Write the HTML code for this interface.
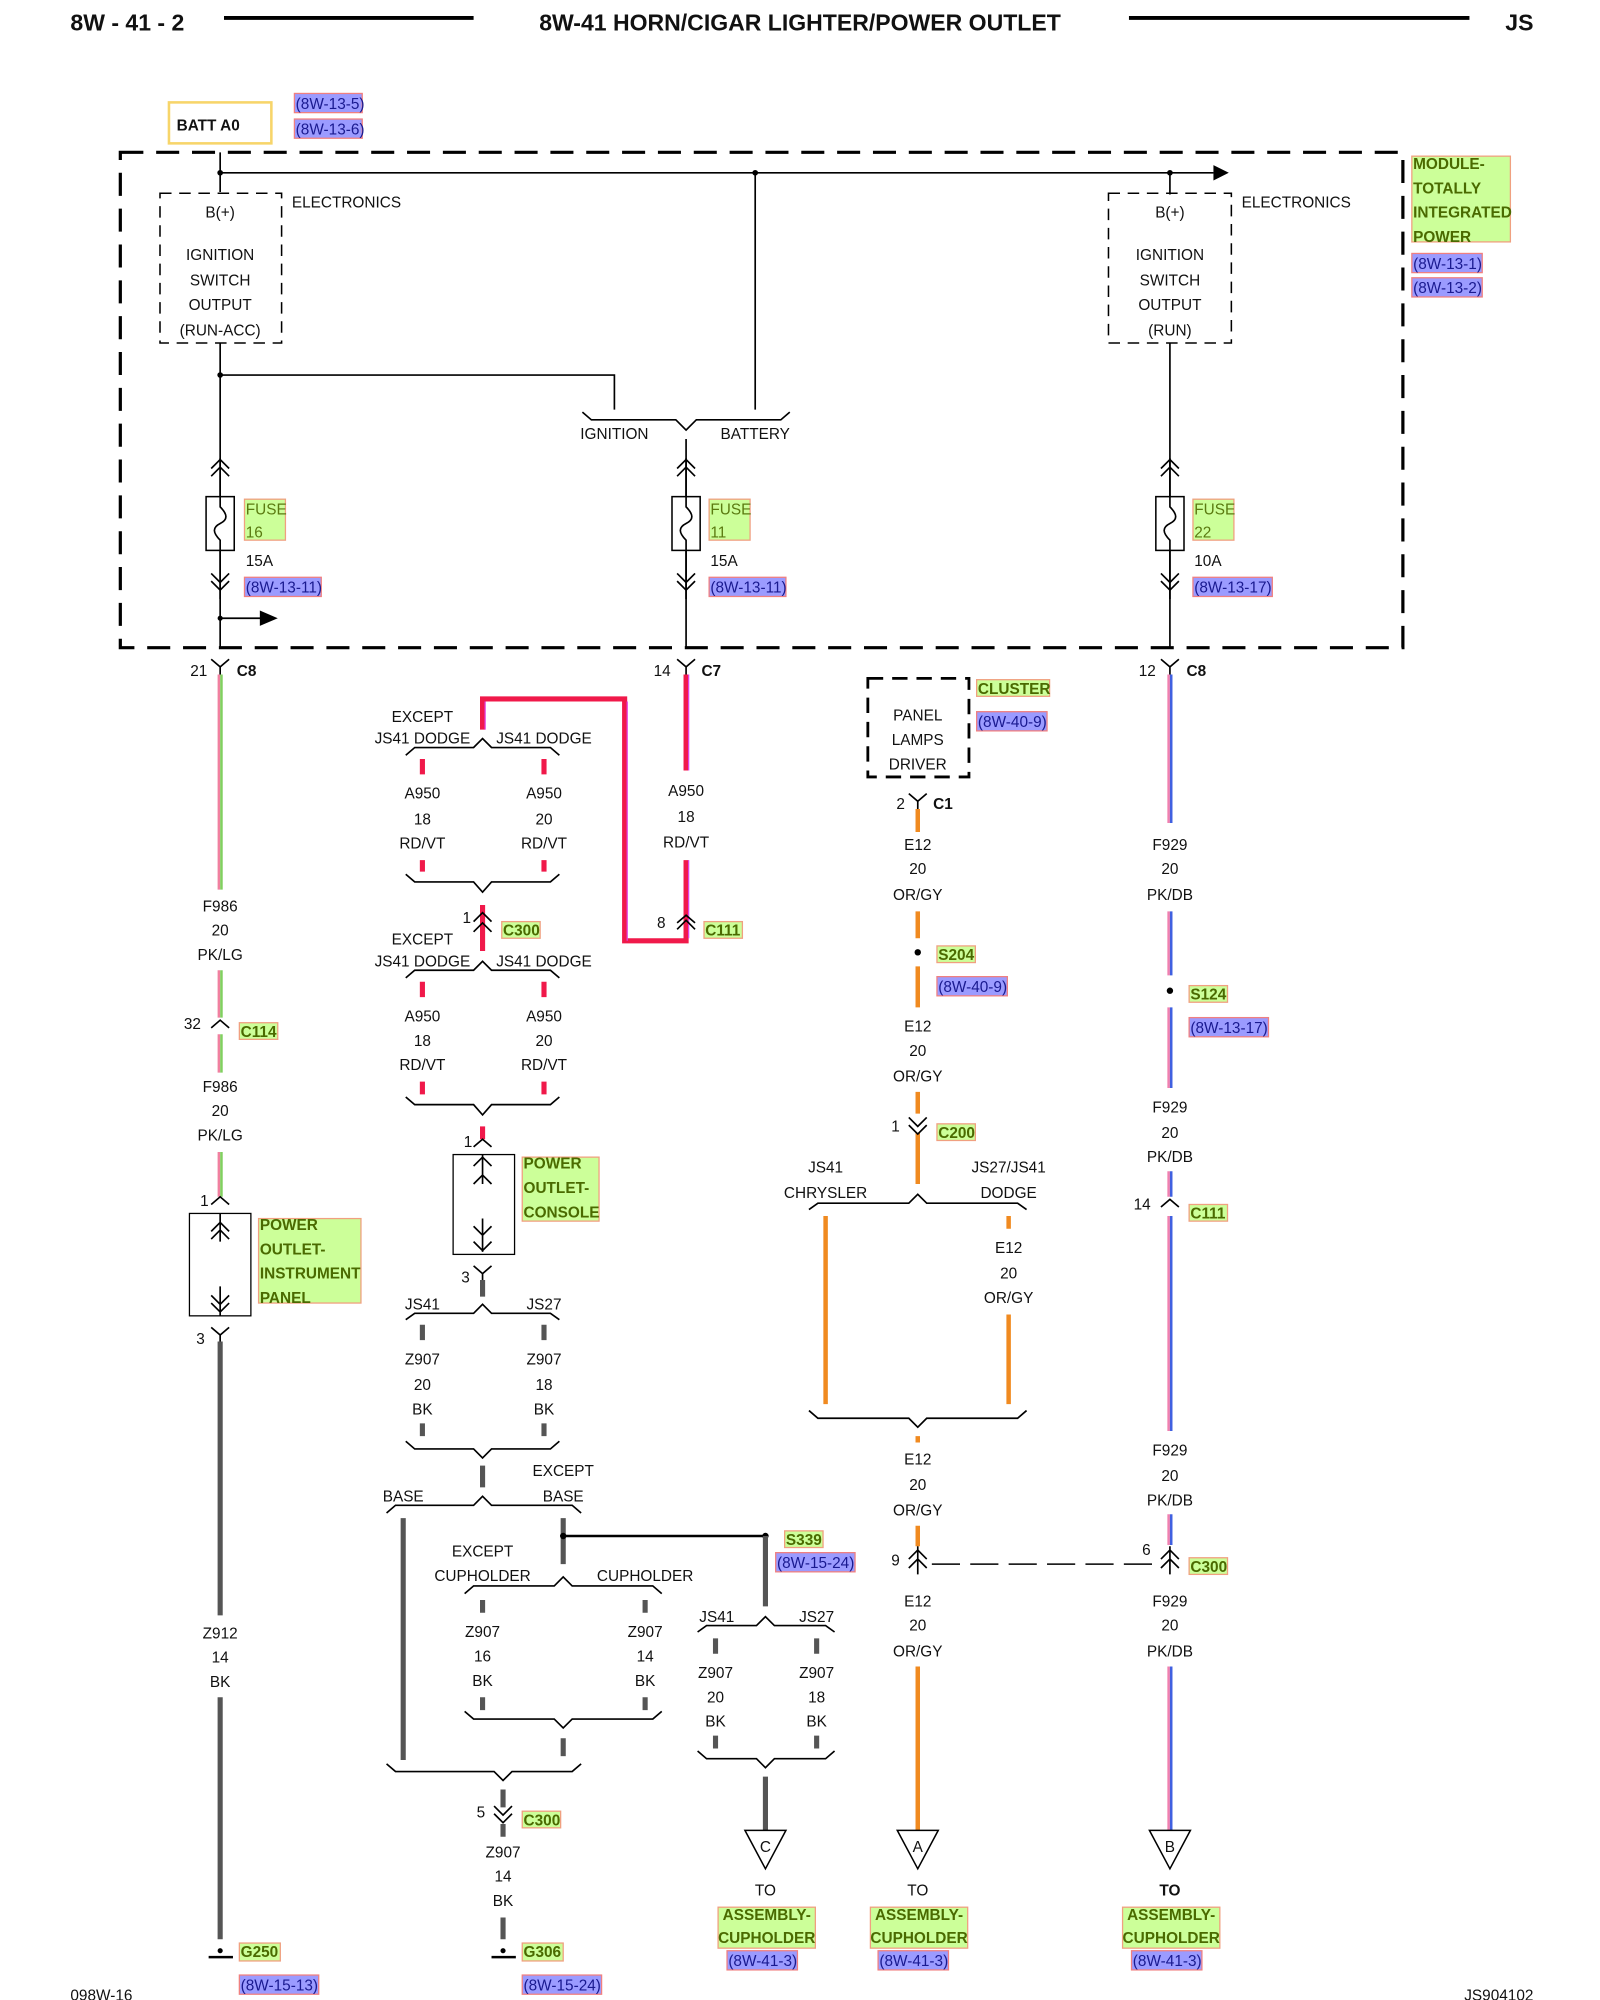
<!DOCTYPE html>
<html><head><meta charset="utf-8"><style>
html,body{margin:0;padding:0;background:#fff}
svg{display:block}
text{font-family:"Liberation Sans",sans-serif;font-size:12px;fill:#111}
.m{text-anchor:middle}
.e{text-anchor:end}
.b{font-weight:bold}
.g{font-weight:bold;fill:#4a6a00;font-size:12px}
.r{fill:#1a1a90;font-size:12px}
.k{stroke:#000;stroke-width:1.3;fill:none}
.bk{stroke:#555;stroke-width:4;fill:none}
.rd{stroke:#f0194a;stroke-width:4;fill:none}
.or{stroke:#f08a20;stroke-width:3.5;fill:none}
</style></head><body>
<svg width="1600" height="2000" viewBox="0 0 1250 1562.5" xmlns="http://www.w3.org/2000/svg">
<defs>
<g id="Y"><path d="M-7,-6 L0,0 L7,-6 M0,0 V6" class="k"/></g>
<g id="A"><path d="M-7,6 L0,0 L7,6" class="k"/></g>
<g id="fuse"><path d="M-7,-22 L0,-29 L7,-22 M-7,-16 L0,-23 L7,-16" class="k"/><rect x="-11" y="0" width="22" height="42" fill="#fff" stroke="#000" stroke-width="1.2"/><path d="M0,-30 V8 C6,14 6,18 0,21 C-6,24 -6,28 0,34 V80" class="k"/><path d="M-7,60 L0,67 L7,60 M-7,66 L0,73 L7,66" class="k"/></g>
</defs>

<!-- header -->
<text x="55" y="24" class="b" style="font-size:18px">8W - 41 - 2</text>
<line x1="175" y1="14" x2="370" y2="14" stroke="#000" stroke-width="3"/>
<text x="625" y="24" class="b m" style="font-size:18px">8W-41 HORN/CIGAR LIGHTER/POWER OUTLET</text>
<line x1="882" y1="14" x2="1148" y2="14" stroke="#000" stroke-width="3"/>
<text x="1198" y="24" class="b e" style="font-size:18px">JS</text>

<!-- BATT -->
<rect x="132" y="80" width="80" height="32" fill="#fff" stroke="#f7d56a" stroke-width="2"/>
<text x="138" y="102" class="b">BATT A0</text>
<rect x="230" y="73" width="53" height="15" fill="#9b9bff" stroke="#f08080"/><text x="231" y="85" class="r">(8W-13-5)</text>
<rect x="230" y="93" width="53" height="15" fill="#9b9bff" stroke="#f08080"/><text x="231" y="105" class="r">(8W-13-6)</text>

<!-- module -->
<rect x="94" y="119" width="1002" height="387" fill="none" stroke="#000" stroke-width="2.5" stroke-dasharray="18 10"/>
<path d="M172,119 V150 M172,135 H948 M590,135 V320 M914,135 V152" class="k"/>
<path d="M948,129 L960,135 L948,141 Z"/>
<circle cx="172" cy="135" r="2.2"/><circle cx="590" cy="135" r="2.2"/><circle cx="914" cy="135" r="2.2"/>
<rect x="125" y="151" width="95" height="117" fill="none" stroke="#000" stroke-width="1.2" stroke-dasharray="9 6"/>
<rect x="866" y="151" width="96" height="117" fill="none" stroke="#000" stroke-width="1.2" stroke-dasharray="9 6"/>
<text x="172" y="170" class="m">B(+)</text><text x="172" y="203" class="m">IGNITION</text><text x="172" y="223" class="m">SWITCH</text><text x="172" y="242" class="m">OUTPUT</text><text x="172" y="262" class="m">(RUN-ACC)</text>
<text x="228" y="162">ELECTRONICS</text>
<text x="914" y="170" class="m">B(+)</text><text x="914" y="203" class="m">IGNITION</text><text x="914" y="223" class="m">SWITCH</text><text x="914" y="242" class="m">OUTPUT</text><text x="914" y="262" class="m">(RUN)</text>
<text x="970" y="162">ELECTRONICS</text>
<path d="M172,268 V506 M172,293 H480 V320 M914,268 V506 M536,343 V506" class="k"/>
<circle cx="172" cy="293" r="2.2"/>
<path d="M455,322 L462,328 L528,328 L536,336 L544,328 L610,328 L617,322" class="k"/>
<text x="480" y="343" class="m">IGNITION</text><text x="590" y="343" class="m">BATTERY</text>
<use href="#fuse" x="172" y="388"/><use href="#fuse" x="536" y="388"/><use href="#fuse" x="914" y="388"/>
<g>
<rect x="191" y="390" width="32" height="32" fill="#ccff99" stroke="#f0a080"/><text x="192" y="402" style="fill:#5a7a10">FUSE</text><text x="192" y="420" style="fill:#5a7a10">16</text>
<text x="192" y="442">15A</text><rect x="191" y="451" width="60" height="15" fill="#9b9bff" stroke="#f08080"/><text x="192" y="463" class="r">(8W-13-11)</text>
<rect x="554" y="390" width="32" height="32" fill="#ccff99" stroke="#f0a080"/><text x="555" y="402" style="fill:#5a7a10">FUSE</text><text x="555" y="420" style="fill:#5a7a10">11</text>
<text x="555" y="442">15A</text><rect x="554" y="451" width="60" height="15" fill="#9b9bff" stroke="#f08080"/><text x="555" y="463" class="r">(8W-13-11)</text>
<rect x="932" y="390" width="32" height="32" fill="#ccff99" stroke="#f0a080"/><text x="933" y="402" style="fill:#5a7a10">FUSE</text><text x="933" y="420" style="fill:#5a7a10">22</text>
<text x="933" y="442">10A</text><rect x="932" y="451" width="62" height="15" fill="#9b9bff" stroke="#f08080"/><text x="933" y="463" class="r">(8W-13-17)</text>
</g>
<path d="M172,483 H205" class="k"/><path d="M203,477 L217,483 L203,489 Z"/><circle cx="172" cy="483" r="2"/>
<rect x="1103" y="122" width="77" height="67" fill="#ccff99" stroke="#f0a080"/>
<text x="1104" y="132" class="g">MODULE-</text><text x="1104" y="151" class="g">TOTALLY</text><text x="1104" y="170" class="g">INTEGRATED</text><text x="1104" y="189" class="g">POWER</text>
<rect x="1103" y="198" width="55" height="15" fill="#9b9bff" stroke="#f08080"/><text x="1104" y="210" class="r">(8W-13-1)</text>
<rect x="1103" y="217" width="55" height="15" fill="#9b9bff" stroke="#f08080"/><text x="1104" y="229" class="r">(8W-13-2)</text>

<!-- connectors at module bottom -->
<use href="#Y" x="172" y="521"/><text x="162" y="528" class="e">21</text><text x="185" y="528" class="b">C8</text>
<use href="#Y" x="536" y="521"/><text x="524" y="528" class="e">14</text><text x="548" y="528" class="b">C7</text>
<use href="#Y" x="914" y="521"/><text x="903" y="528" class="e">12</text><text x="927" y="528" class="b">C8</text>

<!-- left F986 -->
<g stroke-width="2" fill="none">
<path d="M171,527 V695 M171,758 V795 M171,808 V838 M171,900 V935" stroke="#f080a0"/>
<path d="M173,527 V695 M173,758 V795 M173,808 V838 M173,900 V935" stroke="#80d060"/>
</g>
<text x="172" y="712" class="m">F986</text><text x="172" y="731" class="m">20</text><text x="172" y="750" class="m">PK/LG</text>
<use href="#A" x="172" y="797"/><text x="157" y="804" class="e">32</text>
<rect x="187" y="799" width="30" height="13" fill="#ccff99" stroke="#f0a080"/><text x="188" y="810" class="g">C114</text>
<text x="172" y="853" class="m">F986</text><text x="172" y="872" class="m">20</text><text x="172" y="891" class="m">PK/LG</text>
<use href="#A" x="172" y="935"/><text x="163" y="942" class="e">1</text>
<rect x="148" y="948" width="48" height="80" fill="none" stroke="#000"/>
<path d="M172,948 V970 M165,962 L172,955 L179,962 M165,968 L172,961 L179,968 M172,1005 V1028 M165,1012 L172,1019 L179,1012 M165,1018 L172,1025 L179,1018" class="k"/>
<rect x="202" y="952" width="80" height="66" fill="#ccff99" stroke="#f0a080"/>
<text x="203" y="961" class="g">POWER</text><text x="203" y="980" class="g">OUTLET-</text><text x="203" y="999" class="g">INSTRUMENT</text><text x="203" y="1018" class="g">PANEL</text>
<use href="#Y" x="172" y="1043"/><text x="160" y="1050" class="e">3</text>
<path d="M172,1048 V1262 M172,1326 V1515" class="bk"/>
<text x="172" y="1280" class="m">Z912</text><text x="172" y="1299" class="m">14</text><text x="172" y="1318" class="m">BK</text>
<path d="M163,1529 H182" stroke="#000" stroke-width="2"/><circle cx="172" cy="1524" r="2"/>
<rect x="187" y="1518" width="32" height="14" fill="#ccff99" stroke="#f0a080"/><text x="188" y="1529" class="g">G250</text>
<rect x="187" y="1543" width="62" height="15" fill="#9b9bff" stroke="#f08080"/><text x="188" y="1555" class="r">(8W-15-13)</text>

<!-- A950 red -->
<path d="M536,527 V602 M536,672 V735 H488 V546 H377 V570" class="rd"/>
<path d="M538,527 V602 M538,672 V733 M490,735 V548 M379,548 V570" stroke="#e040e0" stroke-width="1" fill="none"/>
<text x="536" y="622" class="m">A950</text><text x="536" y="642" class="m">18</text><text x="536" y="662" class="m">RD/VT</text>
<use href="#A" x="536" y="715"/><path d="M529,726 L536,719 L543,726" class="k"/><text x="520" y="725" class="e">8</text>
<rect x="550" y="720" width="30" height="13" fill="#ccff99" stroke="#f0a080"/><text x="551" y="731" class="g">C111</text>

<!-- group 1 -->
<text x="330" y="564" class="m">EXCEPT</text><text x="330" y="581" class="m">JS41 DODGE</text><text x="425" y="581" class="m">JS41 DODGE</text>
<path d="M317,590 L324,584 L370,584 L377,577 L384,584 L430,584 L437,590" class="k"/>
<path d="M330,593 V605 M425,593 V605 M330,672 V681 M425,672 V681" class="rd"/>
<text x="330" y="624" class="m">A950</text><text x="330" y="644" class="m">18</text><text x="330" y="663" class="m">RD/VT</text>
<text x="425" y="624" class="m">A950</text><text x="425" y="644" class="m">20</text><text x="425" y="663" class="m">RD/VT</text>
<path d="M317,683 L324,689 L370,689 L377,697 L384,689 L430,689 L437,683" class="k"/>
<path d="M377,707 V743" class="rd"/>
<path d="M370,720 L377,713 L384,720 M370,728 L377,721 L384,728" class="k"/><text x="368" y="721" class="e">1</text>
<rect x="392" y="720" width="30" height="13" fill="#ccff99" stroke="#f0a080"/><text x="393" y="731" class="g">C300</text>
<text x="330" y="738" class="m">EXCEPT</text><text x="330" y="755" class="m">JS41 DODGE</text><text x="425" y="755" class="m">JS41 DODGE</text>
<path d="M317,764 L324,758 L370,758 L377,751 L384,758 L430,758 L437,764" class="k"/>
<path d="M330,767 V779 M425,767 V779 M330,845 V855 M425,845 V855" class="rd"/>
<text x="330" y="798" class="m">A950</text><text x="330" y="817" class="m">18</text><text x="330" y="836" class="m">RD/VT</text>
<text x="425" y="798" class="m">A950</text><text x="425" y="817" class="m">20</text><text x="425" y="836" class="m">RD/VT</text>
<path d="M317,857 L324,863 L370,863 L377,871 L384,863 L430,863 L437,857" class="k"/>
<path d="M377,880 V890" class="rd"/>
<use href="#A" x="377" y="890"/><text x="369" y="896" class="e">1</text>
<rect x="354" y="902" width="48" height="78" fill="none" stroke="#000"/>
<path d="M377,902 V925 M370,911 L377,904 L384,911 M370,925 L377,918 L384,925 M377,952 V978 M370,958 L377,965 L384,958 M370,970 L377,977 L384,970" class="k"/>
<rect x="408" y="904" width="60" height="50" fill="#ccff99" stroke="#f0a080"/>
<text x="409" y="913" class="g">POWER</text><text x="409" y="932" class="g">OUTLET-</text><text x="409" y="951" class="g">CONSOLE</text>
<use href="#Y" x="377" y="995"/><text x="367" y="1002" class="e">3</text>
<path d="M377,1000 V1013" class="bk"/>
<text x="330" y="1023" class="m">JS41</text><text x="425" y="1023" class="m">JS27</text>
<path d="M317,1031 L324,1026 L370,1026 L377,1019 L384,1026 L430,1026 L437,1031" class="k"/>
<path d="M330,1035 V1047 M425,1035 V1047 M330,1112 V1122 M425,1112 V1122" class="bk"/>
<text x="330" y="1066" class="m">Z907</text><text x="330" y="1086" class="m">20</text><text x="330" y="1105" class="m">BK</text>
<text x="425" y="1066" class="m">Z907</text><text x="425" y="1086" class="m">18</text><text x="425" y="1105" class="m">BK</text>
<path d="M317,1126 L324,1132 L370,1132 L377,1139 L384,1132 L430,1132 L437,1126" class="k"/>
<path d="M377,1145 V1162" class="bk"/>
<text x="440" y="1153" class="m">EXCEPT</text><text x="315" y="1173" class="m">BASE</text><text x="440" y="1173" class="m">BASE</text>
<path d="M302,1182 L309,1176 L370,1176 L377,1169 L384,1176 L447,1176 L454,1182" class="k"/>
<path d="M315,1186 V1375 M440,1186 V1222" class="bk"/>
<path d="M440,1200 H598" stroke="#000" stroke-width="2"/><circle cx="440" cy="1200" r="2.5"/><circle cx="598" cy="1200" r="2.5"/>
<path d="M598,1200 V1255" class="bk"/>
<rect x="613" y="1196" width="30" height="13" fill="#ccff99" stroke="#f0a080"/><text x="614" y="1207" class="g">S339</text>
<rect x="606" y="1213" width="62" height="15" fill="#9b9bff" stroke="#f08080"/><text x="607" y="1225" class="r">(8W-15-24)</text>
<text x="377" y="1216" class="m">EXCEPT</text><text x="377" y="1235" class="m">CUPHOLDER</text><text x="504" y="1235" class="m">CUPHOLDER</text>
<path d="M363,1245 L370,1239 L433,1239 L440,1232 L447,1239 L510,1239 L517,1245" class="k"/>
<path d="M377,1250 V1260 M504,1250 V1260 M377,1326 V1336 M504,1326 V1336" class="bk"/>
<text x="377" y="1279" class="m">Z907</text><text x="377" y="1298" class="m">16</text><text x="377" y="1317" class="m">BK</text>
<text x="504" y="1279" class="m">Z907</text><text x="504" y="1298" class="m">14</text><text x="504" y="1317" class="m">BK</text>
<path d="M363,1337 L370,1343 L433,1343 L440,1350 L447,1343 L510,1343 L517,1337" class="k"/>
<path d="M440,1358 V1372" class="bk"/>
<path d="M302,1378 L309,1384 L386,1384 L393,1391 L400,1384 L447,1384 L454,1378" class="k"/>
<path d="M393,1398 V1412 M393,1425 V1435 M393,1498 V1515" class="bk"/>
<path d="M386,1411 L393,1418 L400,1411 M386,1417 L393,1424 L400,1417" class="k"/><text x="379" y="1420" class="e">5</text>
<rect x="408" y="1415" width="30" height="13" fill="#ccff99" stroke="#f0a080"/><text x="409" y="1426" class="g">C300</text>
<text x="393" y="1451" class="m">Z907</text><text x="393" y="1470" class="m">14</text><text x="393" y="1489" class="m">BK</text>
<path d="M384,1529 H403" stroke="#000" stroke-width="2"/><circle cx="393" cy="1524" r="2"/>
<rect x="408" y="1518" width="32" height="14" fill="#ccff99" stroke="#f0a080"/><text x="409" y="1529" class="g">G306</text>
<rect x="408" y="1543" width="62" height="15" fill="#9b9bff" stroke="#f08080"/><text x="409" y="1555" class="r">(8W-15-24)</text>

<!-- C group -->
<text x="560" y="1267" class="m">JS41</text><text x="638" y="1267" class="m">JS27</text>
<path d="M545,1275 L552,1270 L591,1270 L598,1263 L605,1270 L645,1270 L652,1275" class="k"/>
<path d="M559,1280 V1292 M638,1280 V1292 M559,1356 V1366 M638,1356 V1366" class="bk"/>
<text x="559" y="1311" class="m">Z907</text><text x="559" y="1330" class="m">20</text><text x="559" y="1349" class="m">BK</text>
<text x="638" y="1311" class="m">Z907</text><text x="638" y="1330" class="m">18</text><text x="638" y="1349" class="m">BK</text>
<path d="M545,1368 L552,1374 L591,1374 L598,1381 L605,1374 L645,1374 L652,1368" class="k"/>
<path d="M598,1388 V1430" class="bk"/>

<!-- cluster / E12 -->
<rect x="678" y="530" width="79" height="77" fill="none" stroke="#000" stroke-width="2.2" stroke-dasharray="12 7"/>
<text x="717" y="563" class="m">PANEL</text><text x="717" y="582" class="m">LAMPS</text><text x="717" y="601" class="m">DRIVER</text>
<rect x="763" y="531" width="57" height="13" fill="#ccff99" stroke="#f0a080"/><text x="764" y="542" class="g">CLUSTER</text>
<rect x="763" y="556" width="55" height="15" fill="#9b9bff" stroke="#f08080"/><text x="764" y="568" class="r">(8W-40-9)</text>
<use href="#Y" x="717" y="626"/><text x="707" y="632" class="e">2</text><text x="729" y="632" class="b">C1</text>
<path d="M717,632 V650 M717,712 V733 M717,755 V787 M717,853 V870 M717,885 V925 M645,950 V1097 M788,950 V960 M788,1027 V1097 M717,1122 V1127 M717,1192 V1208 M717,1302 V1430" class="or"/>
<text x="717" y="664" class="m">E12</text><text x="717" y="683" class="m">20</text><text x="717" y="703" class="m">OR/GY</text>
<circle cx="717" cy="744" r="2.5"/>
<rect x="732" y="739" width="30" height="13" fill="#ccff99" stroke="#f0a080"/><text x="733" y="750" class="g">S204</text>
<rect x="732" y="763" width="55" height="15" fill="#9b9bff" stroke="#f08080"/><text x="733" y="775" class="r">(8W-40-9)</text>
<text x="717" y="806" class="m">E12</text><text x="717" y="825" class="m">20</text><text x="717" y="845" class="m">OR/GY</text>
<path d="M710,873 L717,880 L724,873 M710,879 L717,886 L724,879" class="k"/><text x="703" y="884" class="e">1</text>
<rect x="732" y="878" width="30" height="13" fill="#ccff99" stroke="#f0a080"/><text x="733" y="889" class="g">C200</text>
<text x="645" y="916" class="m">JS41</text><text x="645" y="936" class="m">CHRYSLER</text><text x="788" y="916" class="m">JS27/JS41</text><text x="788" y="936" class="m">DODGE</text>
<path d="M632,945 L639,940 L710,940 L717,933 L724,940 L795,940 L802,945" class="k"/>
<text x="788" y="979" class="m">E12</text><text x="788" y="999" class="m">20</text><text x="788" y="1018" class="m">OR/GY</text>
<path d="M632,1102 L639,1108 L710,1108 L717,1115 L724,1108 L795,1108 L802,1102" class="k"/>
<text x="717" y="1144" class="m">E12</text><text x="717" y="1164" class="m">20</text><text x="717" y="1184" class="m">OR/GY</text>
<path d="M717,1208 V1230 M710,1218 L717,1211 L724,1218 M710,1225 L717,1218 L724,1225" class="k"/><text x="703" y="1223" class="e">9</text>
<path d="M728,1222 H905" stroke="#000" stroke-width="1.2" stroke-dasharray="22 8"/>
<text x="717" y="1255" class="m">E12</text><text x="717" y="1274" class="m">20</text><text x="717" y="1294" class="m">OR/GY</text>

<!-- F929 -->
<g stroke-width="2" fill="none">
<path d="M913,527 V643 M913,712 V762 M913,787 V850 M913,915 V935 M913,950 V1118 M913,1183 V1207 M913,1302 V1430" stroke="#f080b0"/>
<path d="M915,527 V643 M915,712 V762 M915,787 V850 M915,915 V935 M915,950 V1118 M915,1183 V1207 M915,1302 V1430" stroke="#4060e0"/>
</g>
<text x="914" y="664" class="m">F929</text><text x="914" y="683" class="m">20</text><text x="914" y="703" class="m">PK/DB</text>
<circle cx="914" cy="774" r="2.5"/>
<rect x="929" y="770" width="30" height="13" fill="#ccff99" stroke="#f0a080"/><text x="930" y="781" class="g">S124</text>
<rect x="929" y="795" width="62" height="15" fill="#9b9bff" stroke="#f08080"/><text x="930" y="807" class="r">(8W-13-17)</text>
<text x="914" y="869" class="m">F929</text><text x="914" y="889" class="m">20</text><text x="914" y="908" class="m">PK/DB</text>
<use href="#A" x="914" y="937"/><text x="899" y="945" class="e">14</text>
<rect x="929" y="941" width="30" height="13" fill="#ccff99" stroke="#f0a080"/><text x="930" y="952" class="g">C111</text>
<text x="914" y="1137" class="m">F929</text><text x="914" y="1157" class="m">20</text><text x="914" y="1176" class="m">PK/DB</text>
<path d="M914,1208 V1230 M907,1218 L914,1211 L921,1218 M907,1225 L914,1218 L921,1225" class="k"/><text x="899" y="1215" class="e">6</text>
<rect x="929" y="1217" width="30" height="13" fill="#ccff99" stroke="#f0a080"/><text x="930" y="1228" class="g">C300</text>
<text x="914" y="1255" class="m">F929</text><text x="914" y="1274" class="m">20</text><text x="914" y="1294" class="m">PK/DB</text>

<!-- terminals -->
<path d="M582,1430 H614 L598,1460 Z M701,1430 H733 L717,1460 Z M898,1430 H930 L914,1460 Z" fill="#fff" stroke="#000" stroke-width="1.2"/>
<text x="598" y="1447" class="m">C</text><text x="717" y="1447" class="m">A</text><text x="914" y="1447" class="m">B</text>
<text x="598" y="1481" class="m">TO</text><text x="717" y="1481" class="m">TO</text><text x="914" y="1481" class="m b">TO</text>
<rect x="561" y="1490" width="76" height="32" fill="#ccff99" stroke="#f0a080"/><text x="599" y="1500" class="g m">ASSEMBLY-</text><text x="599" y="1518" class="g m">CUPHOLDER</text>
<rect x="680" y="1490" width="76" height="32" fill="#ccff99" stroke="#f0a080"/><text x="718" y="1500" class="g m">ASSEMBLY-</text><text x="718" y="1518" class="g m">CUPHOLDER</text>
<rect x="877" y="1490" width="76" height="32" fill="#ccff99" stroke="#f0a080"/><text x="915" y="1500" class="g m">ASSEMBLY-</text><text x="915" y="1518" class="g m">CUPHOLDER</text>
<rect x="568" y="1524" width="55" height="15" fill="#9b9bff" stroke="#f08080"/><text x="569" y="1536" class="r">(8W-41-3)</text>
<rect x="686" y="1524" width="55" height="15" fill="#9b9bff" stroke="#f08080"/><text x="687" y="1536" class="r">(8W-41-3)</text>
<rect x="884" y="1524" width="55" height="15" fill="#9b9bff" stroke="#f08080"/><text x="885" y="1536" class="r">(8W-41-3)</text>

<text x="55" y="1563">098W-16</text>
<text x="1198" y="1563" class="e">JS904102</text>
</svg>
</body></html>
